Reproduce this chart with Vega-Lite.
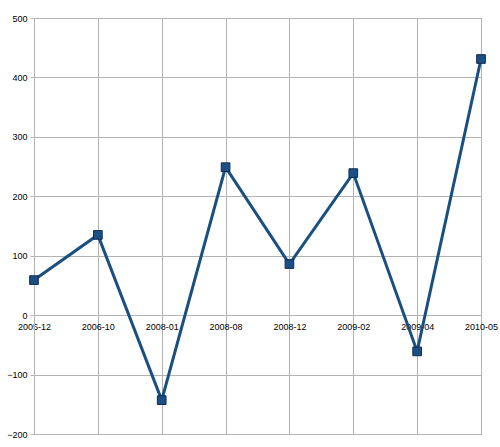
{
  "$schema": "https://vega.github.io/schema/vega-lite/v6.json",
  "width": 447,
  "height": 416,
  "autosize": "none",
  "padding": {"left": 34, "top": 18, "right": 19, "bottom": 13},
  "background": "white",
  "config": {"view": {"stroke": "#b3b3b3", "strokeWidth": 1}},
  "data": {"values": [
    {"date": "2005-12", "value": 59},
    {"date": "2006-10", "value": 135},
    {"date": "2008-01", "value": -143},
    {"date": "2008-08", "value": 249},
    {"date": "2008-12", "value": 86},
    {"date": "2009-02", "value": 239},
    {"date": "2009-04", "value": -61},
    {"date": "2010-05", "value": 431}
  ]},
  "encoding": {
    "x": {"field": "date", "type": "ordinal", "sort": null,
      "scale": {"type": "point", "padding": 0},
      "axis": {"title": null, "orient": "bottom", "offset": -119, "domain": false, "ticks": false,
        "grid": true, "gridColor": "#b3b3b3", "gridWidth": 1,
        "labelAngle": 0, "labelFont": "Liberation Sans", "labelFontSize": 9, "labelColor": "#000000",
        "labelPadding": 7, "labelOverlap": false, "labelFlush": false}},
    "y": {"field": "value", "type": "quantitative",
      "scale": {"domain": [-200, 500], "nice": false, "zero": false},
      "axis": {"title": null, "values": [-200, -100, 0, 100, 200, 300, 400, 500],
        "grid": true, "gridColor": "#b3b3b3", "gridWidth": 1,
        "domain": true, "domainColor": "#b3b3b3", "ticks": true, "tickColor": "#b3b3b3", "tickSize": 4,
        "labelFont": "Liberation Sans", "labelFontSize": 9, "labelColor": "#000000", "labelPadding": 3}}
  },
  "layer": [
    {"mark": {"type": "line", "color": "#1a4f80", "strokeWidth": 3}},
    {"mark": {"type": "point", "shape": "square", "size": 75, "filled": true, "fill": "#1c4f86", "stroke": "#0e2c4d", "strokeWidth": 1, "opacity": 1}}
  ]
}
